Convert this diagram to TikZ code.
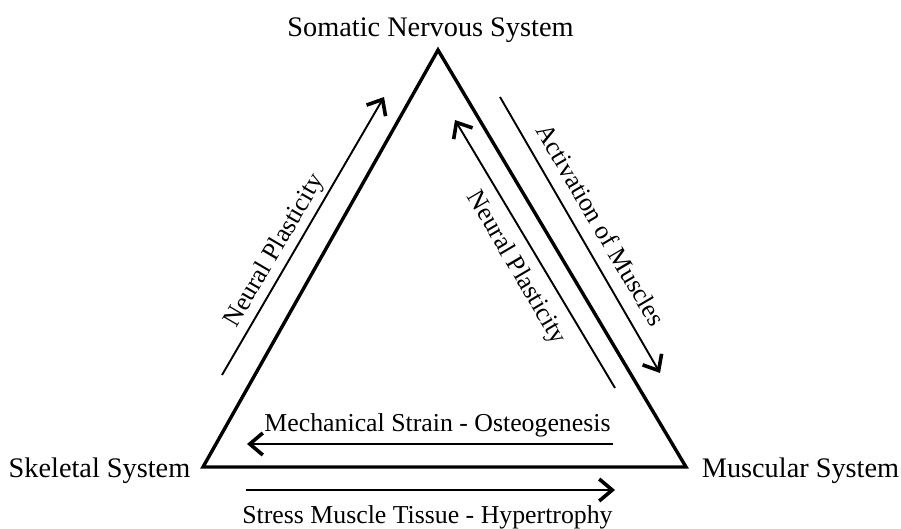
\documentclass[tikz,border=0pt]{standalone}
\usepackage{fontspec}
\setmainfont{Liberation Serif}
\usetikzlibrary{arrows.meta}
\begin{document}
\begin{tikzpicture}[x=1pt,y=-1pt,
  tri/.style={line width=3.4pt, line join=miter},
  arr/.style={line width=1.9pt, -{Straight Barb[length=13pt,width=22pt,line width=3.6pt]}},
  lab/.style={font=\fontsize{28.3}{30}\selectfont, inner sep=0pt, anchor=base},
  elab/.style={font=\fontsize{25.8}{28}\selectfont, inner sep=0pt, anchor=base},
  rlab/.style={font=\fontsize{25.8}{28}\selectfont, inner sep=0pt}]
\useasboundingbox (0,0) rectangle (901,529);
\coordinate (T) at (438,50);
\coordinate (L) at (203,467);
\coordinate (R) at (686,467);
\draw[tri] (T) -- (R) -- (L) -- cycle;

\node[lab] (som) at (430.5,37) {Somatic Nervous System};
\node[lab] (ske) at (99.5,477) {Skeletal System};
\node[lab] (mus) at (800.5,477) {Muscular System};
\node[elab] (mech) at (437.5,431) {Mechanical Strain - Osteogenesis};
\node[elab] (stress) at (427.5,523) {Stress Muscle Tissue - Hypertrophy};

\coordinate (a1s) at (222,375);
\coordinate (a1e) at (384,97);
\draw[arr] (a1s) -- (a1e);
\node[rlab, rotate=59.6] (np1) at (275,251) {Neural Plasticity};

\coordinate (a2s) at (615,388);
\coordinate (a2e) at (455,120);
\draw[arr] (a2s) -- (a2e);
\node[rlab, rotate=-59.5] (np2) at (516,268) {Neural Plasticity};

\coordinate (a3s) at (500,97);
\coordinate (a3e) at (660,373);
\draw[arr] (a3s) -- (a3e);
\node[rlab, rotate=-59.5] (act) at (601,225) {Activation of Muscles};

\coordinate (a4s) at (613,444);
\coordinate (a4e) at (247,444);
\draw[arr] (a4s) -- (a4e);

\coordinate (a5s) at (246,490);
\coordinate (a5e) at (615,490);
\draw[arr] (a5s) -- (a5e);
\end{tikzpicture}
\end{document}
